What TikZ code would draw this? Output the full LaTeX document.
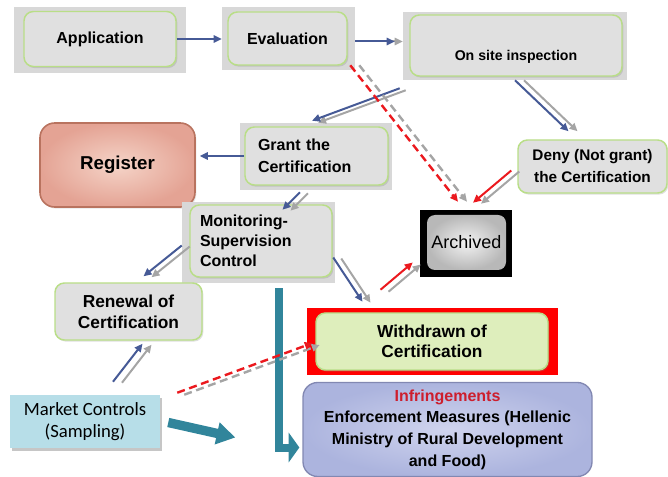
\documentclass[tikz,border=0pt]{standalone}
\usepackage{fontspec}
\setmainfont{Liberation Sans}
\newfontfamily\calibrifont{Carlito}
\usetikzlibrary{arrows.meta,calc,positioning,shadows}
\definecolor{bggray}{RGB}{216,216,216}
\definecolor{boxgray}{RGB}{224,224,224}
\definecolor{boxgreen}{RGB}{185,222,135}
\definecolor{flowblue}{RGB}{70,90,150}
\definecolor{flowgray}{RGB}{165,165,165}
\definecolor{flowred}{RGB}{235,25,30}
\definecolor{bigteal}{RGB}{49,133,155}
\definecolor{reginner}{RGB}{245,212,200}
\definecolor{regouter}{RGB}{228,163,148}
\definecolor{regline}{RGB}{185,115,95}
\definecolor{wdfill}{RGB}{222,238,188}
\definecolor{infinner}{RGB}{208,212,238}
\definecolor{infouter}{RGB}{172,180,222}
\definecolor{infline}{RGB}{130,136,178}
\definecolor{mktfill}{RGB}{183,222,232}
\definecolor{infred}{RGB}{205,30,45}
\tikzset{
	backdrop/.style={fill=#1, draw=none, inner sep=0pt},
	backdrop/.default=bggray,
	greenbox/.style={rounded corners=7pt, fill=boxgray, draw=boxgreen, line width=1.1pt,
		inner sep=0pt, font=\bfseries, align=center,
		drop shadow={opacity=.25, shadow xshift=1pt, shadow yshift=-1.2pt}},
	flow/.style={line width=1.5pt, -{Triangle[length=6pt,width=5.5pt]}},
	broken/.style={line width=1.8pt, dash pattern=on 6pt off 3.5pt},
	bigflow/.style={draw=bigteal, line width=#1, miter limit=10},
}
% pair of parallel arrows: gray copy shifted by #4, coloured one on top
\newcommand{\twin}[4]{%
	\draw[flow,#1,draw=flowgray] ($(#2)+(#4)$) -- ($(#3)+(#4)$);
	\draw[flow,#1] (#2) -- (#3);}
\begin{document}
\begin{tikzpicture}[x=0.75pt, y=-0.75pt]
	\useasboundingbox (0,0) rectangle (668,477);
	% top row
	\node[backdrop, minimum width=129pt, minimum height=49.5pt] (appbg) at (100,40) {};
	\node[greenbox, minimum width=114pt, minimum height=41.25pt, font=\bfseries\fontsize{12}{14}\selectfont] (app) at (100,39) {Application};
	\node[backdrop, minimum width=99.75pt, minimum height=47.25pt] (evalbg) at (288.5,38.5) {};
	\node[greenbox, minimum width=89.25pt, minimum height=39.75pt, font=\bfseries\fontsize{12}{14}\selectfont] (eval) at (287.5,38.5) {Evaluation};
	\node[backdrop, minimum width=168pt, minimum height=51pt] (osibg) at (515,46) {};
	\node[greenbox, minimum width=159pt, minimum height=45.75pt,
		label={[yshift=-8.5pt, font=\bfseries\fontsize{10.6}{13}\selectfont]center:On site inspection}] (osi) at (516,45.5) {};
	% middle
	\node[greenbox, minimum width=111.75pt, minimum height=39.75pt, font=\bfseries\fontsize{11.5}{16.5}\selectfont] (deny) at (592.5,166.5) {Deny (Not grant)\\the Certification};
	\node[backdrop, minimum width=114pt, minimum height=50.25pt] (grantbg) at (316,156.5) {};
	\node[greenbox, minimum height=43.5pt, text width=87.75pt, inner xsep=9.75pt, align=left, font=\bfseries\fontsize{12}{16.5}\selectfont] (grant) at (316.5,156) {Grant the\\Certification};
	\node[rounded corners=11pt, draw=regline, line width=1.2pt, inner color=reginner, outer color=regouter,
		minimum width=116.25pt, minimum height=63pt, font=\bfseries\fontsize{14}{16}\selectfont,
		drop shadow={opacity=.2, shadow xshift=1pt, shadow yshift=-1.2pt}] (reg) at (117.5,165) {Register};
	\node[backdrop, minimum width=114.75pt, minimum height=60.75pt] (monbg) at (258.5,242.5) {};
	\node[greenbox, minimum height=54pt, text width=91.5pt, inner xsep=7.5pt, align=left, font=\bfseries\fontsize{12}{15}\selectfont] (mon) at (261,241) {Monitoring-\\Supervision\\Control};
	\node[backdrop=black, minimum width=69pt, minimum height=50.25pt] (arcbg) at (466,243.5) {};
	\node[rounded corners=6pt, inner color=white!95!black, outer color=black!28, minimum width=59.25pt, minimum height=41.25pt,
		inner sep=0pt, font=\fontsize{13.5}{16}\selectfont] (arc) at (466.5,242.5) {Archived};
	\node[backdrop=red, minimum width=188.25pt, minimum height=50.25pt] (wdbg) at (432.5,341.5) {};
	\node[greenbox, fill=wdfill, minimum width=174pt, minimum height=42.75pt, font=\bfseries\fontsize{13}{15}\selectfont] (wd) at (432,341.5) {Withdrawn of\\Certification};
	% bottom
	\node[greenbox, minimum width=110.25pt, minimum height=42.75pt, font=\bfseries\fontsize{13}{16}\selectfont] (ren) at (128.5,311.5) {Renewal of\\Certification};
	\node[fill=mktfill, inner sep=0pt, minimum width=112.5pt, minimum height=39.75pt, align=center,
		font=\calibrifont\fontsize{14}{17}\selectfont,
		drop shadow={opacity=.45, shadow xshift=1.5pt, shadow yshift=-2pt}] (mkt) at (85,421.5) {Market Controls\\(Sampling)};
	\node[rounded corners=11pt, draw=infline, line width=1pt, inner color=infinner, outer color=infouter,
		minimum width=216.75pt, minimum height=70.5pt, inner sep=0pt, align=center, font=\bfseries\fontsize{12}{16.3}\selectfont] (inf) at (447.5,429.5)
		{\textcolor{infred}{Infringements}\\Enforcement Measures (Hellenic\\Ministry of Rural Development\\and Food)};
	% anchor points of the connectors
	\coordinate (eo1) at ($(evalbg.east)+(0,3)$);
	\coordinate (eo2) at ($(osibg.west)+(-8,-4.5)$);
	\coordinate (og1) at ($(osibg.south west)+(-3,8)$);
	\coordinate (og2) at ($(grantbg.north)+(-4,-2)$);
	\coordinate (od1) at (osibg.south);
	\coordinate (od2) at ($(deny.north)+(-24,-8)$);
	\coordinate (ea1) at ($(evalbg.south east)+(-5,-5)$);
	\coordinate (ea2) at ($(arcbg.north)+(-8,-8)$);
	\coordinate (da1) at ($(deny.west)+(-6,4)$);
	\coordinate (da2) at ($(arcbg.north)+(7,-7)$);
	\coordinate (gm1) at ($(grantbg.south)+(-16,2)$);
	\coordinate (gm2) at ($(monbg.north)+(24,8)$);
	\coordinate (mr1) at ($(monbg.west)+(0,3)$);
	\coordinate (mr2) at ($(ren.north)+(15,-6)$);
	\coordinate (mw1) at ($(monbg.east)+(-2,15)$);
	\coordinate (mw2) at ($(wdbg.north)+(-70,-6)$);
	\coordinate (wa1) at ($(wdbg.north)+(-52,-18)$);
	\coordinate (wa2) at ($(arcbg.west)+(-7,19)$);
	\coordinate (kr1) at ($(mkt.north)+(28,-13)$);
	\coordinate (kr2) at ($(ren.south)+(14,3)$);
	\coordinate (kw1) at ($(mkt.north east)+(17,-2)$);
	\coordinate (kw2) at ($(wdbg.west)+(6,1.5)$);
	% big teal arrows
	\draw[bigflow=6pt, -{Triangle[length=8pt,width=22pt]}] ($(monbg.south)+(20,5)$) |- ($(inf.west)+(-3,18)$);
	\draw[bigflow=7pt, -{Triangle[length=14pt,width=16pt]}] ($(mkt.east)+(8,1)$) -- ($(inf.west)+(-67,8)$);
	% connectors
	\draw[flow, draw=flowblue] (app.east) -- (app.east -| evalbg.west);
	\twin{draw=flowblue}{eo1}{eo2}{8,0}
	\twin{draw=flowblue}{og1}{og2}{6,2}
	\twin{draw=flowblue}{od1}{od2}{9,0}
	\twin{draw=flowred,broken}{ea1}{ea2}{9,0}
	\twin{draw=flowred}{da1}{da2}{8,1}
	\draw[flow, draw=flowblue, shorten >=3pt] (grant.west) -- (grant.west -| reg.east);
	\twin{draw=flowblue}{gm1}{gm2}{8,1}
	\twin{draw=flowblue}{mr1}{mr2}{8,1}
	\twin{draw=flowblue}{mw1}{mw2}{8,1}
	\twin{draw=flowred}{wa1}{wa2}{8,2}
	\twin{draw=flowblue}{kr1}{kr2}{9,1}
	\twin{draw=flowred,broken}{kw1}{kw2}{7,2}
\end{tikzpicture}
\end{document}
